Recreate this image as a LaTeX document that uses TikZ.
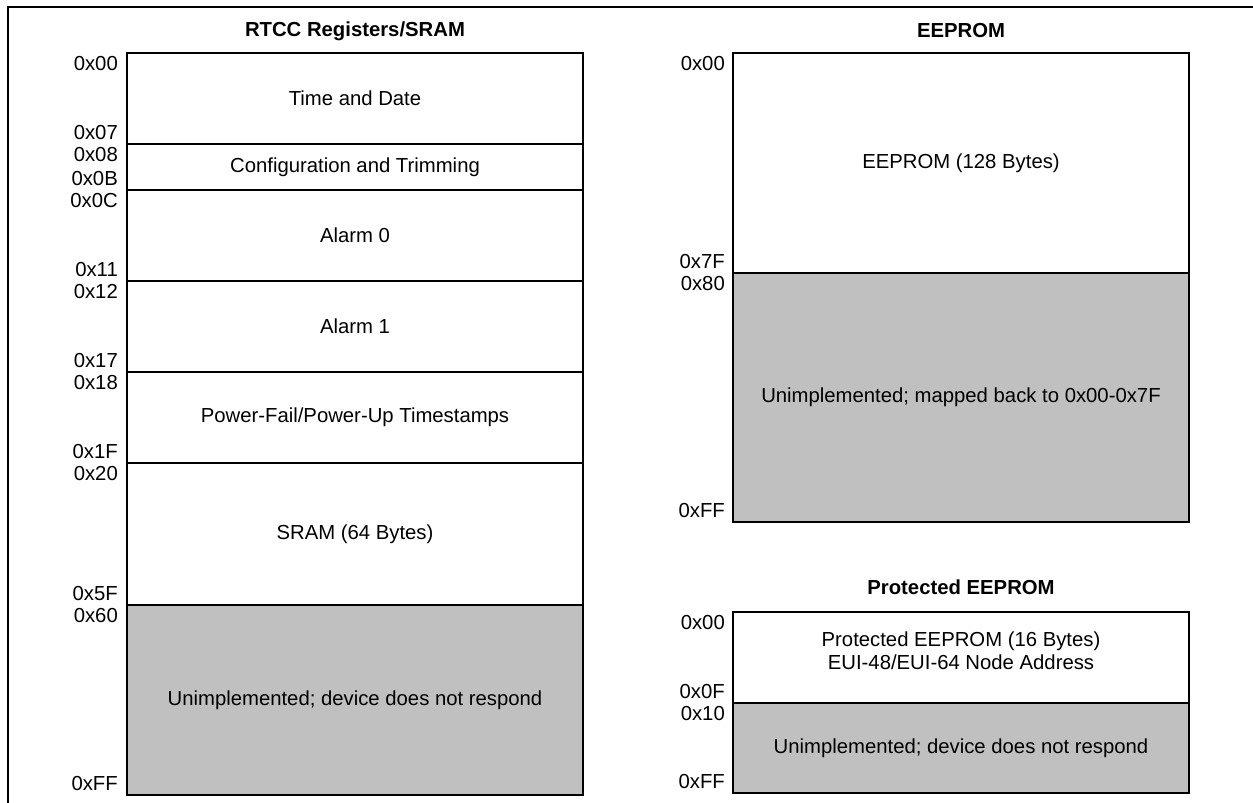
\documentclass[tikz,border=0pt]{standalone}
\usepackage{fontspec}
\setmainfont{Liberation Sans}
\usepackage{xcolor}
\usepackage{tikz}
\definecolor{memgray}{RGB}{192,192,192}

\begin{document}
\begin{tikzpicture}[x=1pt,y=-1pt,
  font=\fontsize{20.3}{23}\selectfont,
  seg/.style={draw,line width=1.8pt},
  addr/.style={inner sep=0pt},
  title/.style={font=\fontsize{20.3}{23}\selectfont\bfseries}]
  \useasboundingbox (0,0) rectangle (1253,803);
  % frame
  \draw[line width=2pt] (8,803) -- (8,7) -- (1253,7);

  % RTCC registers / SRAM
  \node[title] (rtcctitle) at (355,31) {RTCC Registers/SRAM};
  \foreach \ya/\yb/\adra/\adrb/\col/\txt [count=\i] in {
      53/144/0x00/0x07/white/Time and Date,
      144/190/0x08/0x0B/white/Configuration and Trimming,
      190/281/0x0C/0x11/white/Alarm 0,
      281/372/0x12/0x17/white/Alarm 1,
      372/463/0x18/0x1F/white/{Power-Fail/Power-Up Timestamps},
      463/605/0x20/0x5F/white/SRAM (64 Bytes),
      605/795/0x60/0xFF/memgray/Unimplemented; device does not respond}{
    \draw[seg,fill=\col] (127,\ya) rectangle (583,\yb);
    \node (rtcc\i) at (355,{(\ya+\yb)/2}) {\txt};
    \node[addr,anchor=north east] (rtccfirst\i) at (118,\ya+3.5) {\adra};
    \node[addr,anchor=south east] (rtcclast\i) at (118,\yb-4) {\adrb};
  }

  % EEPROM
  \node[title] (eetitle) at (961,31) {EEPROM};
  \foreach \ya/\yb/\adra/\adrb/\col/\txt [count=\i] in {
      53/273/0x00/0x7F/white/EEPROM (128 Bytes),
      273/522/0x80/0xFF/memgray/Unimplemented; mapped back to 0x00-0x7F}{
    \draw[seg,fill=\col] (733,\ya) rectangle (1189,\yb);
    \node (ee\i) at (961,{(\ya+\yb)/2}) {\txt};
    \node[addr,anchor=north east] (eefirst\i) at (725,\ya+3.5) {\adra};
    \node[addr,anchor=south east] (eelast\i) at (725,\yb-4) {\adrb};
  }

  % Protected EEPROM
  \node[title] (peetitle) at (961,587) {Protected EEPROM};
  \draw[seg] (733,612) rectangle (1189,703);
  \draw[seg,fill=memgray] (733,703) rectangle (1189,793);
  \node[align=center] (pee1) at (961,651) {Protected EEPROM (16 Bytes)\\EUI-48/EUI-64 Node Address};
  \node (pee2) at (961,748) {Unimplemented; device does not respond};
  \node[addr,anchor=north east] (peefirst1) at (725,615.5) {0x00};
  \node[addr,anchor=south east] (peelast1) at (725,699) {0x0F};
  \node[addr,anchor=north east] (peefirst2) at (725,706.5) {0x10};
  \node[addr,anchor=south east] (peelast2) at (725,789) {0xFF};
\end{tikzpicture}
\end{document}
